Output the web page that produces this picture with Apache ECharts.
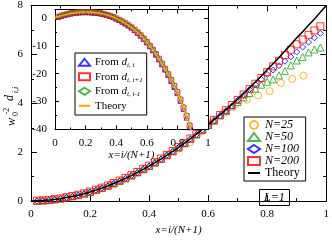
<!DOCTYPE html>
<html><head><meta charset="utf-8">
<script src="https://cdn.jsdelivr.net/npm/echarts@6/dist/echarts.min.js"></script>
<style>html,body{margin:0;padding:0;background:#fff}#c{width:332px;height:241px}</style>
</head><body><div id="c"></div>
<script>
// ---------- main plot data ----------
const xMain = [0.02,0.04,0.06,0.08,0.10,0.12,0.14,0.16,0.18,0.20,0.22,0.24,0.26,0.28,0.30,0.32,0.34,0.36,0.38,0.40,0.42,0.44,0.46,0.48,0.50,0.52,0.54,0.56,0.58,0.60,0.62,0.64,0.66,0.68,0.70,0.72,0.74,0.76,0.78,0.80,0.82,0.84,0.86,0.88,0.90,0.92,0.94,0.96,0.98];
const x25 = [0.038,0.077,0.115,0.154,0.192,0.231,0.269,0.308,0.346,0.385,0.423,0.462,0.500,0.538,0.577,0.615,0.654,0.692,0.731,0.769,0.808,0.846,0.885,0.923];
const yN25 = [0.02,0.06,0.14,0.23,0.34,0.49,0.67,0.86,1.08,1.33,1.59,1.88,2.15,2.40,2.85,3.25,3.62,3.95,4.15,4.32,4.50,4.83,5.00,5.13];
const yN50 = [0.01,0.02,0.04,0.07,0.10,0.15,0.19,0.24,0.30,0.37,0.45,0.53,0.62,0.72,0.82,0.93,1.04,1.17,1.30,1.43,1.57,1.72,1.87,2.03,2.19,2.36,2.54,2.72,2.91,3.10,3.29,3.50,3.68,3.87,4.05,4.24,4.42,4.60,4.76,4.88,4.98,5.14,5.32,5.55,5.75,5.90,6.08,6.20,6.28];
const yN100 = [0.01,0.02,0.04,0.07,0.10,0.15,0.19,0.24,0.30,0.37,0.45,0.53,0.62,0.72,0.82,0.93,1.04,1.17,1.30,1.43,1.57,1.72,1.87,2.03,2.19,2.36,2.54,2.72,2.91,3.10,3.29,3.49,3.69,3.89,4.12,4.34,4.56,4.77,4.98,5.18,5.36,5.54,5.72,5.90,6.10,6.30,6.50,6.68,6.86];
const yN200 = [0.02,0.03,0.05,0.08,0.11,0.16,0.21,0.26,0.32,0.39,0.47,0.55,0.64,0.74,0.84,0.95,1.06,1.19,1.32,1.45,1.59,1.74,1.89,2.05,2.21,2.38,2.56,2.74,2.93,3.12,3.32,3.52,3.72,3.93,4.14,4.36,4.58,4.80,5.03,5.27,5.51,5.74,5.97,6.19,6.41,6.61,6.80,6.98,7.15];
const xTheory = [0,0.02,0.04,0.06,0.08,0.10,0.12,0.14,0.16,0.18,0.20,0.22,0.24,0.26,0.28,0.30,0.32,0.34,0.36,0.38,0.40,0.42,0.44,0.46,0.48,0.50,0.52,0.54,0.56,0.58,0.60,0.62,0.64,0.66,0.68,0.70,0.72,0.74,0.76,0.78,0.80,0.82,0.84,0.86,0.88,0.90,0.92,0.94,0.96,0.98,1.00];
const yTheory = [0,0.01,0.02,0.04,0.07,0.10,0.15,0.19,0.24,0.30,0.37,0.45,0.53,0.62,0.72,0.82,0.93,1.04,1.17,1.30,1.43,1.57,1.72,1.87,2.03,2.20,2.37,2.55,2.74,2.93,3.13,3.33,3.53,3.73,3.95,4.17,4.40,4.63,4.87,5.12,5.37,5.62,5.87,6.14,6.41,6.68,6.93,7.19,7.45,7.72,8.00];

// ---------- inset data ----------
const xIn = [0.02,0.04,0.06,0.08,0.10,0.12,0.14,0.16,0.18,0.20,0.22,0.24,0.26,0.28,0.30,0.32,0.34,0.36,0.38,0.40,0.42,0.44,0.46,0.48,0.50,0.52,0.54,0.56,0.58,0.60,0.62,0.64,0.66,0.68,0.70,0.72,0.74,0.76,0.78,0.80,0.82,0.84,0.86,0.88];
const yInD0 = [0.35,0.70,1.02,1.30,1.54,1.72,1.87,1.98,2.03,2.04,2.02,1.96,1.86,1.72,1.54,1.30,1.02,0.68,0.26,-0.24,-0.78,-1.37,-2.02,-2.75,-3.50,-4.40,-5.35,-6.38,-7.55,-8.77,-10.16,-11.63,-13.20,-14.90,-16.66,-18.54,-20.50,-22.60,-24.76,-27.00,-29.75,-32.70,-35.75,-39.20];
const yInDp = [0.38,0.74,1.06,1.34,1.58,1.76,1.91,2.02,2.07,2.08,2.06,2.00,1.90,1.76,1.58,1.34,1.06,0.72,0.30,-0.18,-0.72,-1.30,-1.94,-2.66,-3.40,-4.28,-5.22,-6.24,-7.40,-8.60,-9.98,-11.44,-12.98,-14.66,-16.40,-18.26,-20.20,-22.26,-24.40,-26.60,-29.30,-32.20,-35.20,-38.60];
const yInDm = [0.40,0.77,1.09,1.37,1.61,1.80,1.95,2.06,2.11,2.12,2.10,2.04,1.94,1.80,1.62,1.39,1.11,0.77,0.36,-0.12,-0.65,-1.22,-1.86,-2.57,-3.30,-4.17,-5.10,-6.11,-7.25,-8.44,-9.80,-11.25,-12.77,-14.43,-16.15,-17.99,-19.90,-21.94,-24.05,-26.22,-28.88,-31.75,-34.70,-38.05];
const xInTheory = [0,0.02,0.04,0.06,0.08,0.10,0.12,0.14,0.16,0.18,0.20,0.22,0.24,0.26,0.28,0.30,0.32,0.34,0.36,0.38,0.40,0.42,0.44,0.46,0.48,0.50,0.52,0.54,0.56,0.58,0.60,0.62,0.64,0.66,0.68,0.70,0.72,0.74,0.76,0.78,0.80,0.82,0.84,0.86,0.88,0.90];
const yInTheory = [0,0.38,0.74,1.06,1.34,1.58,1.76,1.91,2.02,2.07,2.08,2.06,2.00,1.90,1.76,1.58,1.34,1.06,0.72,0.30,-0.18,-0.72,-1.30,-1.94,-2.66,-3.40,-4.28,-5.22,-6.24,-7.40,-8.60,-9.98,-11.44,-12.98,-14.66,-16.40,-18.26,-20.20,-22.26,-24.40,-26.60,-29.30,-32.20,-35.20,-38.60,-42.00];

const FONT = '"Liberation Serif","Times New Roman",serif';
const pairs = (xs, ys) => xs.map((x, i) => [x, ys[i]]);

const C_OR = '#ffa500', C_GR = '#1fa01f', C_BL = '#0000ff', C_RD = '#ff0000';

function scat(name, xs, ys, sym, color, size, xi, yi, z) {
  return { type: 'scatter', name, xAxisIndex: xi, yAxisIndex: yi, data: pairs(xs, ys),
    symbol: sym, symbolSize: size, z: z, silent: true, animation: false,
    itemStyle: { color: 'rgba(0,0,0,0)', borderColor: color, borderWidth: 1 } };
}

function axisCommon(showLabels, pos, majLen, minLen) {
  return {
    position: pos,
    axisLine: { show: true, onZero: false, lineStyle: { color: '#000', width: 1 } },
    axisTick: { show: true, inside: true, length: majLen, lineStyle: { color: '#000', width: 1 } },
    minorTick: { show: true, splitNumber: 2, length: minLen, lineStyle: { color: '#000', width: 1 } },
    splitLine: { show: false }, minorSplitLine: { show: false },
    axisLabel: { show: showLabels, fontFamily: FONT, fontSize: 11, color: '#000' }
  };
}

const option = {
  animation: false,
  backgroundColor: '#fff',
  grid: [
    { left: 31, top: 5, right: 3, bottom: 23, show: false },
    { left: 55, top: 9.5, width: 153, height: 120, show: true, backgroundColor: '#fff', borderWidth: 0, z: 10 }
  ],
  xAxis: [
    Object.assign(axisCommon(true, 'bottom', 6, 3), { type: 'value', gridIndex: 0, min: 0, max: 1, interval: 0.2,
      name: 'x=i/(N+1)', nameLocation: 'middle', nameGap: 21,
      nameTextStyle: { fontFamily: FONT, fontStyle: 'italic', fontSize: 11, color: '#000' } }),
    Object.assign(axisCommon(false, 'top', 6, 3), { type: 'value', gridIndex: 0, min: 0, max: 1, interval: 0.2 }),
    Object.assign(axisCommon(true, 'bottom', 4, 2), { type: 'value', gridIndex: 1, min: 0, max: 1, interval: 0.2, z: 11,
      name: 'x=i/(N+1)', nameLocation: 'middle', nameGap: 18,
      nameTextStyle: { fontFamily: FONT, fontStyle: 'italic', fontSize: 11, color: '#000' } }),
    Object.assign(axisCommon(false, 'top', 4, 2), { type: 'value', gridIndex: 1, min: 0, max: 1, interval: 0.2, z: 11 })
  ],
  yAxis: [
    Object.assign(axisCommon(true, 'left', 6, 3), { type: 'value', gridIndex: 0, min: 0, max: 8, interval: 2 }),
    Object.assign(axisCommon(false, 'right', 6, 3), { type: 'value', gridIndex: 0, min: 0, max: 8, interval: 2 }),
    Object.assign(axisCommon(true, 'left', 4, 2), { type: 'value', gridIndex: 1, min: -40, max: 3, interval: 10, z: 11 }),
    Object.assign(axisCommon(false, 'right', 4, 2), { type: 'value', gridIndex: 1, min: -40, max: 3, interval: 10, z: 11 })
  ],
  legend: [
    { show: true, orient: 'vertical', left: 244, top: 117, padding: [2, 6, 2, 3], itemGap: 0,
      itemWidth: 12, itemHeight: 8, borderColor: '#000', borderWidth: 1, backgroundColor: '#fff', z: 20,
      selectedMode: false,
      data: ['N=25', 'N=50', 'N=100', 'N=200', 'TheoryMain'],
      formatter: n => n === 'TheoryMain' ? '{t|Theory}' : '{i|' + n + '}',
      textStyle: { fontFamily: FONT, fontSize: 12, color: '#000', lineHeight: 12,
        rich: { i: { fontFamily: FONT, fontStyle: 'italic', fontSize: 12, lineHeight: 12 },
                t: { fontFamily: FONT, fontSize: 12, lineHeight: 12 } } } },
    { show: true, orient: 'vertical', left: 75, top: 53, padding: [2, 4, 2, 3], itemGap: 0,
      itemWidth: 11, itemHeight: 7, borderColor: '#000', borderWidth: 1, backgroundColor: '#fff', z: 20,
      selectedMode: false,
      data: ['d0', 'dp', 'dm', 'TheoryInset'],
      formatter: n => {
        if (n === 'TheoryInset') return '{t|Theory}';
        const sub = n === 'd0' ? 'i, i' : (n === 'dp' ? 'i, i+1' : 'i, i-1');
        return '{t|From }{d|d}{s|' + sub + '}';
      },
      textStyle: { fontFamily: FONT, fontSize: 11, color: '#000', lineHeight: 14.5,
        rich: { t: { fontFamily: FONT, fontSize: 11, lineHeight: 14.5 },
                d: { fontFamily: FONT, fontStyle: 'italic', fontSize: 11, lineHeight: 14.5 },
                s: { fontFamily: FONT, fontStyle: 'italic', fontSize: 7, lineHeight: 14.5, padding: [6, 0, 0, 0] } } } }
  ],
  title: { text: 'L=1', left: 259, top: 189, padding: [2, 5, 2, 5], borderColor: '#000', borderWidth: 1,
    textStyle: { fontFamily: FONT, fontStyle: 'italic', fontWeight: 'normal', fontSize: 12, color: '#000', lineHeight: 13 } },
  graphic: [
    { type: 'text', x: 12, y: 122, rotation: Math.PI / 2, style: { text: 'w', fontFamily: FONT, fontStyle: 'italic', fontSize: 12, fill: '#000', align: 'center', verticalAlign: 'middle' } },
    { type: 'text', x: 16, y: 114, rotation: Math.PI / 2, style: { text: '0', fontFamily: FONT, fontSize: 8, fill: '#000', align: 'center', verticalAlign: 'middle' } },
    { type: 'text', x: 7, y: 111, rotation: Math.PI / 2, style: { text: '-2', fontFamily: FONT, fontSize: 8, fill: '#000', align: 'center', verticalAlign: 'middle' } },
    { type: 'text', x: 10, y: 98, rotation: Math.PI / 2, style: { text: 'd', fontFamily: FONT, fontStyle: 'italic', fontSize: 12, fill: '#000', align: 'center', verticalAlign: 'middle' } },
    { type: 'text', x: 16, y: 90, rotation: Math.PI / 2, style: { text: 'i,i', fontFamily: FONT, fontStyle: 'italic', fontSize: 8, fill: '#000', align: 'center', verticalAlign: 'middle' } }
  ],
  series: [
    scat('N=25', x25, yN25, 'circle', C_OR, 7, 0, 0, 2),
    scat('N=50', xMain, yN50, 'triangle', C_GR, 7, 0, 0, 2),
    scat('N=100', xMain, yN100, 'diamond', C_BL, 6, 0, 0, 2),
    scat('N=200', xMain, yN200, 'rect', C_RD, 7, 0, 0, 2),
    { type: 'line', name: 'TheoryMain', xAxisIndex: 0, yAxisIndex: 0, data: pairs(xTheory, yTheory),
      symbol: 'none', smooth: false, z: 3, silent: true, lineStyle: { color: '#000', width: 1.5 },
      itemStyle: { color: 'rgba(0,0,0,0)', borderWidth: 0 } },
    scat('d0', xIn, yInD0, 'triangle', C_BL, 5, 2, 2, 12),
    scat('dp', xIn, yInDp, 'rect', C_RD, 5, 2, 2, 12),
    scat('dm', xIn, yInDm, 'diamond', C_GR, 5, 2, 2, 12),
    { type: 'line', name: 'TheoryInset', xAxisIndex: 2, yAxisIndex: 2, data: pairs(xInTheory, yInTheory),
      symbol: 'none', smooth: false, z: 13, clip: true, silent: true, lineStyle: { color: C_OR, width: 1.5 },
      itemStyle: { color: 'rgba(0,0,0,0)', borderWidth: 0 } }
  ]
};
const chart = echarts.init(document.getElementById('c'), null, { renderer: 'canvas' });
chart.setOption(option);
</script>
</body></html>
